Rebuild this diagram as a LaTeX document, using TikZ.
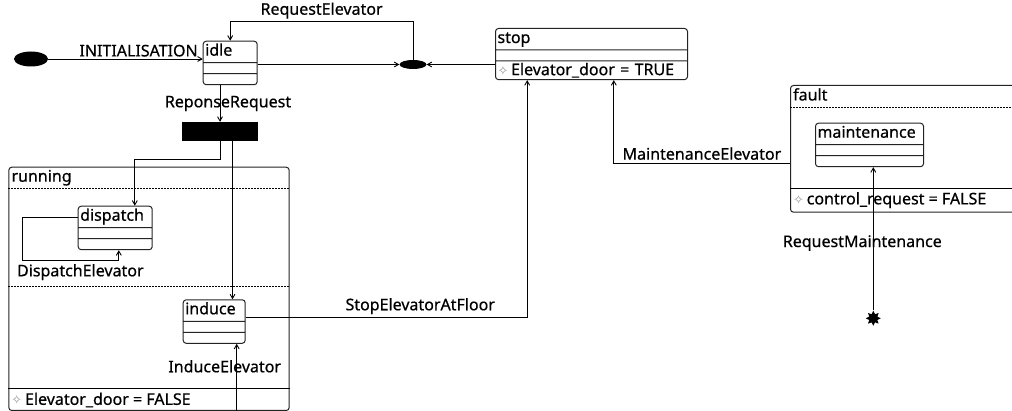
\documentclass[tikz,border=0pt]{standalone}
\usepackage{fontspec}
\setmainfont{Noto Sans}[FakeBold=0.6]
\newfontfamily\symfont{DejaVu Sans}
\usepackage{tikz}
\usetikzlibrary{shapes.geometric, shapes.multipart, arrows, positioning, calc}
\usepackage{xcolor}
\definecolor{umlline}{RGB}{35, 35, 35}
\definecolor{attrgrey}{RGB}{150, 150, 150}
\newcommand{\attr}{{\symfont\fontsize{13}{13}\selectfont\color{attrgrey}✧}\,}
\tikzstyle{state} = [rectangle split, rectangle split parts=3, anchor=north west, draw=umlline, line width=1pt, rounded corners=3pt, align=left, inner xsep=2pt, inner ysep=1.5pt, text height=12.5pt, text depth=5pt, rectangle split empty part height=7pt, rectangle split empty part depth=0pt]
\tikzstyle{composite} = [rectangle, anchor=north west, draw=umlline, line width=1pt, rounded corners=3pt, inner sep=0pt]
\tikzstyle{pseudo} = [ellipse, fill=black, inner sep=0pt]
\tikzstyle{divider} = [line width=0.7pt, dash pattern=on 2pt off 1pt]
\tikzstyle{arrow} = [line width=0.9pt, ->, >=angle 60]

\begin{document}
\begin{tikzpicture}[x=1pt, y=-1pt, font=\fontsize{16}{19}\selectfont]
    \useasboundingbox (0,0) rectangle (1012,411);

    % composite states
    \node (running) [composite, minimum width=280.4, minimum height=243.3] at (8.3,166.7) {};
    \node (runTitle) [anchor=north west, inner sep=3pt] at (running.north west) {running};
    \draw [divider] ([yshift=-22pt]running.north west) -- ([yshift=-22pt]running.north east);
    \draw [divider] ([yshift=-120pt]running.north west) -- ([yshift=-120pt]running.north east);
    \draw [line width=0.8pt] ([yshift=22.3pt]running.south west) -- ([yshift=22.3pt]running.south east);
    \node (runAttr) [anchor=west, inner sep=3pt] at ([yshift=11pt]running.south west) {\attr Elevator\_door = FALSE};

    \node (fault) [composite, minimum width=260, minimum height=126.7] at (790,85) {};
    \node (faultTitle) [anchor=north west, inner sep=3pt] at (fault.north west) {fault};
    \draw [divider] ([yshift=-22.3pt]fault.north west) -- ([yshift=-22.3pt]fault.north east);
    \draw [line width=0.8pt] ([yshift=24.4pt]fault.south west) -- ([yshift=24.4pt]fault.south east);
    \node (faultAttr) [anchor=west, inner sep=3pt] at ([yshift=12.5pt]fault.south west) {\attr control\_request = FALSE};

    % simple states
    \node (idle) [state, text width=50pt] at (202.7,40.7) {idle};
    \node (stop) [state, text width=188pt] at (495,28) {stop \nodepart{three} \attr Elevator\_door = TRUE};
    \node (dispatch) [state, text width=70pt] at (77.7,205.7) {dispatch};
    \node (induce) [state, text width=58pt] at (182.7,299.3) {induce};
    \node (maintenance) [state, text width=104pt] at (815,122.7) {maintenance};

    % pseudo states
    \node (init) [pseudo, minimum width=34, minimum height=15] at (31,59) {};
    \node (junc) [pseudo, minimum width=27, minimum height=9] at (413,64.5) {};
    \node (bar) [rectangle, fill=black, minimum width=76, minimum height=19, inner sep=0pt] at (220,131.5) {};
    \node (final) [star, star points=8, star point ratio=1.7, fill=black, minimum size=15, inner sep=0pt] at (873.3,318.3) {};
    \coordinate (fork2) at ([xshift=12.5pt]bar.south);
    \coordinate (indSrc) at (236.7,420);
    \coordinate (loopOut) at ([yshift=-11.6pt]dispatch.north west);

    % transitions
    \draw [arrow] (init) -- node[above, pos=0.585, inner sep=2pt] (initLbl) {INITIALISATION} (init -| idle.west);
    \draw [arrow] (junc.north) |- node[above, pos=0.75, inner sep=2pt] (reqLbl) {RequestElevator} (idle.north |- 0,21) -- (idle.north);
    \draw [arrow] (junc -| idle.east) -- (junc.west);
    \draw [arrow] (junc -| stop.west) -- (junc.east);
    \draw [arrow] (idle.south -| bar.north) -- node[xshift=8pt] (respLbl) {ReponseRequest} (bar.north);
    \draw [arrow] (bar.south) -- ++(0,18.5) -| ([xshift=19.6pt]dispatch.north);
    \draw [arrow] (fork2) -- (fork2 |- induce.north);
    \draw [arrow] (loopOut) -- ++(-55,0) -- ++(0,43.4) -| node[below, pos=0.3, inner sep=3pt] (dispLbl) {DispatchElevator} ([xshift=3.6pt]dispatch.south);
    \draw [arrow] (indSrc) -- node[pos=0.705, xshift=-12pt] (indLbl) {InduceElevator} (indSrc |- induce.south);
    \draw [arrow] ([yshift=4pt]induce.east) -| node[above, pos=0.31, inner sep=3pt] (stopLbl) {StopElevatorAtFloor} ([xshift=-64.3pt]stop.south);
    \draw [arrow] ([yshift=-14.4pt]fault.west) -| node[above, pos=0.25, inner sep=3pt] (mainLbl) {MaintenanceElevator} ([xshift=22.3pt]stop.south);
    \draw [arrow] (final) -- node[pos=0.47, xshift=-11pt] (rmLbl) {RequestMaintenance} (final |- maintenance.south);
\end{tikzpicture}
\end{document}
